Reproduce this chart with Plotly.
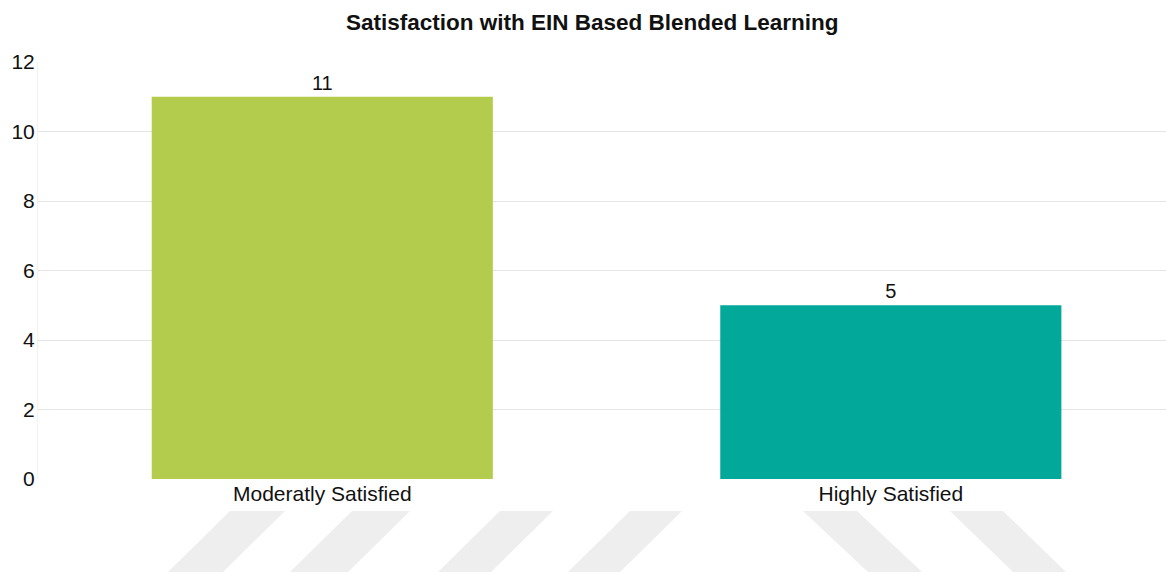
import plotly.graph_objects as go

# Chart data
categories = ["Moderatly Satisfied", "Highly Satisfied"]
counts = [11, 5]
bar_colors = ["#b3cc4d", "#02a899"]

W, H = 1166, 572
M_L, M_R, M_T, M_B = 38, 0, 62, 93

fig = go.Figure(
    go.Bar(
        x=categories,
        y=counts,
        width=0.6,
        marker=dict(color=bar_colors, line=dict(width=0)),
        text=[str(v) for v in counts],
        textposition="outside",
        textfont=dict(family="Liberation Sans, Arial", size=20, color="#111111"),
        cliponaxis=False,
        hoverinfo="x+y",
    )
)

# Light diagonal band pattern along the bottom edge (pixel geometry -> paper coords)
plot_w = W - M_L - M_R
plot_h = H - M_T - M_B


def px_to_paper(px, py):
    return (px - M_L) / plot_w, (H - M_B - py) / plot_h


band_top, band_bot = 511, 572
stripes = [
    (230, 285, -62), (352, 410, -62), (500, 553, -62), (630, 682, -62),
    (803, 857, 65), (950, 1003, 63),
]
shapes = []
for x0, x1, dx in stripes:
    pts = [(x0, band_top), (x1, band_top), (x1 + dx, band_bot), (x0 + dx, band_bot)]
    pp = [px_to_paper(a, b) for a, b in pts]
    path = "M " + " L ".join(f"{a:.5f},{b:.5f}" for a, b in pp) + " Z"
    shapes.append(dict(type="path", path=path, xref="paper", yref="paper",
                       fillcolor="#eeeeee", line=dict(width=0), layer="below"))

fig.update_layout(
    width=W,
    height=H,
    margin=dict(l=M_L, r=M_R, t=M_T, b=M_B),
    paper_bgcolor="white",
    plot_bgcolor="white",
    showlegend=False,
    shapes=shapes,
    title=dict(
        text="<b>Satisfaction with EIN Based Blended Learning</b>",
        x=0.508, xanchor="center",
        y=1 - 22 / H, yanchor="middle", yref="container",
        font=dict(family="Liberation Sans, Arial", size=22.5, color="#111111"),
    ),
    xaxis=dict(
        range=[-0.5, 1.484],
        showgrid=False,
        zeroline=False,
        showline=False,
        ticks="",
        tickfont=dict(family="Liberation Sans, Arial", size=21, color="#111111"),
    ),
    yaxis=dict(
        range=[0, 12],
        dtick=2,
        showgrid=True,
        gridcolor="#e4e4e4",
        gridwidth=1,
        zeroline=False,
        showline=True,
        linecolor="#f2f2f2",
        linewidth=1,
        ticks="",
        ticklabelstandoff=-2,
        tickfont=dict(family="Liberation Sans, Arial", size=21, color="#111111"),
    ),
)

fig.write_html("out.html")
